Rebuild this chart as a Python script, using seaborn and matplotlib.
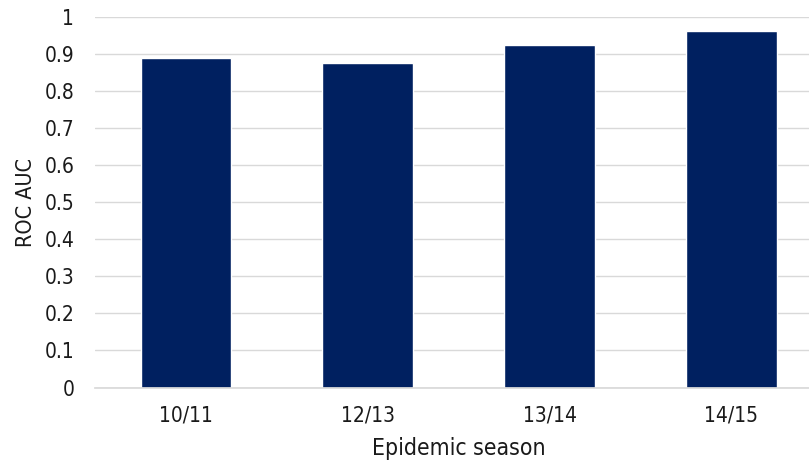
import matplotlib
matplotlib.use("Agg")
import matplotlib.pyplot as plt
import seaborn as sns
import pandas as pd

seasons = ["10/11", "12/13", "13/14", "14/15"]
roc_auc = [0.889, 0.877, 0.926, 0.962]

sns.set_theme(style="whitegrid")
plt.rcParams["font.family"] = ["DejaVu Sans"]
plt.rcParams["font.stretch"] = "condensed"

df = pd.DataFrame({"season": seasons, "auc": roc_auc})

fig = plt.figure(figsize=(8.09, 4.62), dpi=100)
ax = fig.add_axes([95.1 / 809, 1 - 387.5 / 462, (822.3 - 95.1) / 809, (387.5 - 17.3) / 462])

sns.barplot(data=df, x="season", y="auc", color="#002060", saturation=1,
            width=0.5, ax=ax)

ax.set_ylim(0, 1)
ax.set_yticks([i / 10 for i in range(11)])
ax.set_yticklabels(["0"] + [f"0.{i}" for i in range(1, 10)] + ["1"])
ax.grid(axis="y", color="#d9d9d9", linewidth=1)
ax.grid(axis="x", visible=False)
for side in ["top", "right", "left"]:
    ax.spines[side].set_visible(False)
ax.spines["bottom"].set_color("#d9d9d9")
ax.tick_params(axis="y", length=0, labelsize=15, colors="#1a1a1a", pad=15)
ax.tick_params(axis="x", length=0, labelsize=15, colors="#1a1a1a", pad=13)
ax.set_xlabel("Epidemic season", fontsize=16.5, color="#1a1a1a", labelpad=8)
ax.set_ylabel("ROC AUC", fontsize=15.5, color="#1a1a1a", labelpad=6)

fig.savefig("out.png", dpi=100)
